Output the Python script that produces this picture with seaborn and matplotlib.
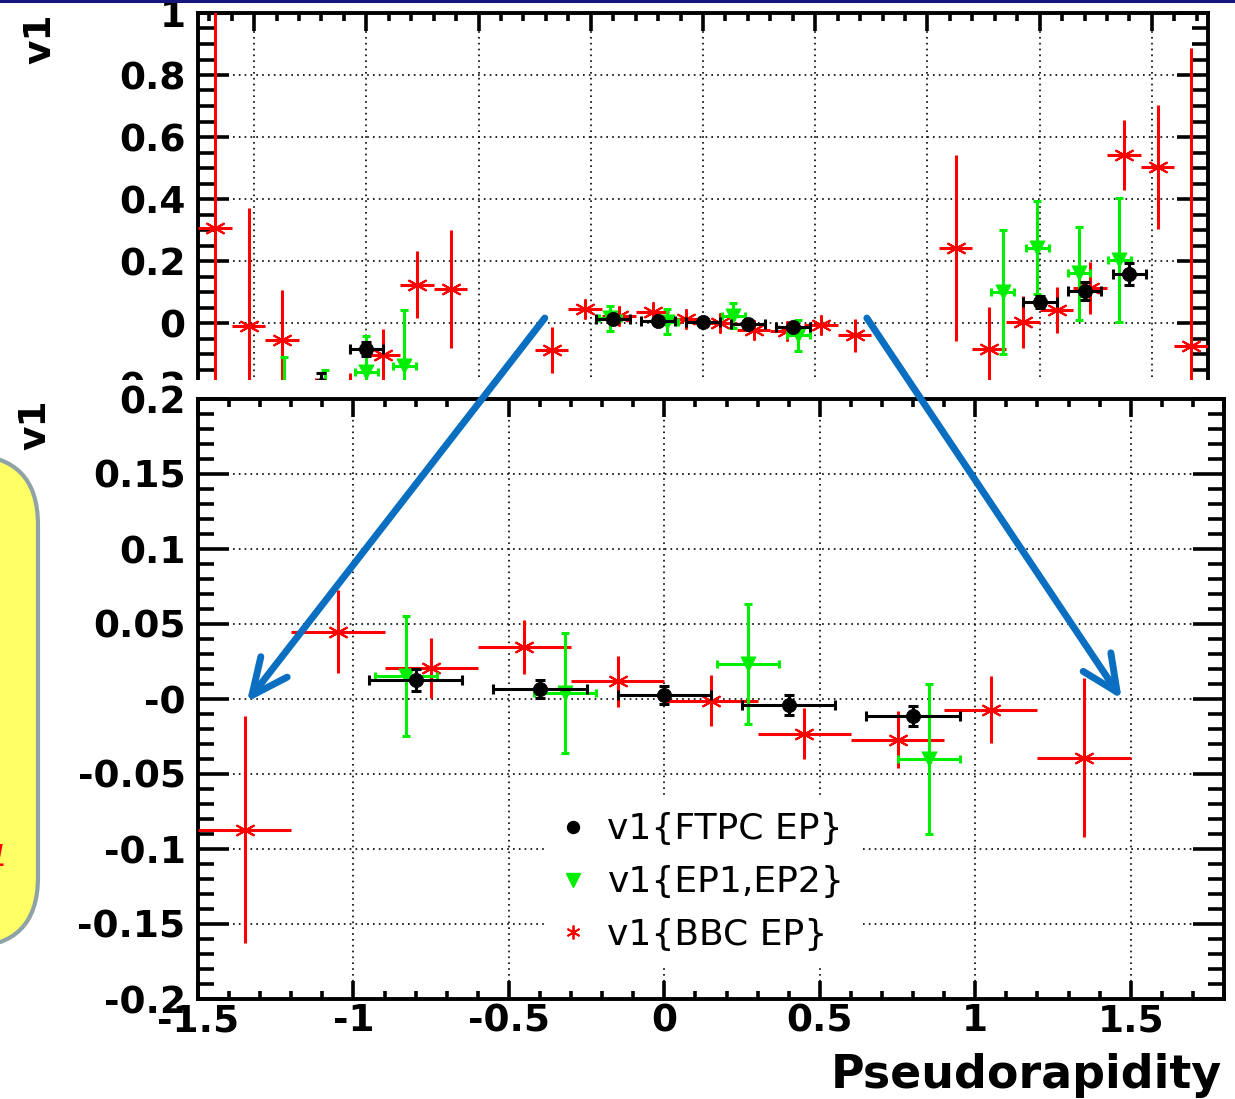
import matplotlib
matplotlib.use("Agg")
import matplotlib.pyplot as plt
import seaborn as sns
from matplotlib.lines import Line2D
from matplotlib.patches import Rectangle, FancyBboxPatch, ConnectionPatch
from matplotlib.ticker import MultipleLocator

# v1{BBC EP}  (bins of 0.3 in eta)
bbc_eta = [-4.35, -4.05, -3.75, -3.45, -3.15, -2.85, -2.55, -2.25, -1.95, -1.65,
           -1.35, -1.05, -0.75, -0.45, -0.15, 0.15, 0.45, 0.75, 1.05, 1.35,
           1.65, 1.95, 2.25, 2.55, 2.85, 3.15, 3.45, 3.75, 4.05, 4.35]
bbc_v1 = [0.306, -0.010, -0.055, -0.300, -0.280, -0.103, 0.123, 0.110, -0.400, -0.400,
          -0.087, 0.045, 0.021, 0.035, 0.012, -0.001, -0.023, -0.027, -0.007, -0.039,
          -0.400, -0.400, 0.242, -0.084, 0.003, 0.042, 0.113, 0.542, 0.503, -0.074]
bbc_err = [1.00, 0.38, 0.16, 0.123, 0.12, 0.083, 0.108, 0.19, 0.15, 0.15,
           0.0755, 0.0277, 0.020, 0.018, 0.017, 0.0167, 0.017, 0.019, 0.0225, 0.053,
           0.15, 0.15, 0.30, 0.136, 0.085, 0.073, 0.085, 0.113, 0.20, 0.96]
bbc_xerr = 0.15

# v1{EP1,EP2}
ep_eta = [-3.73, -3.37, -3.00, -2.66, -0.83, -0.32, 0.27, 0.85, 2.67, 2.98, 3.35, 3.71]
ep_v1 = [-0.300, -0.250, -0.158, -0.139, 0.0153, 0.004, 0.0233, -0.040, 0.100, 0.242, 0.161, 0.203]
ep_err = [0.19, 0.10, 0.116, 0.18, 0.040, 0.040, 0.040, 0.050, 0.20, 0.15, 0.15, 0.20]
ep_xerr = 0.1

# v1{FTPC EP}
ftpc_eta = [-3.8, -3.4, -3.0, -0.8, -0.4, 0.0, 0.4, 0.8, 3.0, 3.4, 3.8]
ftpc_v1 = [-0.250, -0.200, -0.084, 0.0127, 0.0067, 0.0027, -0.004, -0.0113, 0.068, 0.103, 0.158]
ftpc_err = [0.04, 0.04, 0.024, 0.0073, 0.006, 0.0063, 0.0067, 0.0067, 0.02, 0.03, 0.035]
ftpc_xerr = 0.15

legend_labels = ["v1{FTPC EP}", "v1{EP1,EP2}", "v1{BBC EP}"]

top_xticks = [-4, -3, -2, -1, 0, 1, 2, 3, 4]
top_yticks = [-0.2, 0, 0.2, 0.4, 0.6, 0.8, 1]
top_ylabels = ["-0.2", "0", "0.2", "0.4", "0.6", "0.8", "1"]
bot_xticks = [-1.5, -1, -0.5, 0, 0.5, 1, 1.5]
bot_xlabels = ["-1.5", "-1", "-0.5", "0", "0.5", "1", "1.5"]
bot_yticks = [-0.2, -0.15, -0.1, -0.05, 0, 0.05, 0.1, 0.15, 0.2]
bot_ylabels = ["-0.2", "-0.15", "-0.1", "-0.05", "-0", "0.05", "0.1", "0.15", "0.2"]

# arrows: start in top panel data, end in zoomed panel data
arrow_from = [(-1.41, 0.016), (1.46, 0.016)]
arrow_to = [(-1.343, -0.002), (1.471, 0.0)]

sns.set_style("ticks")
plt.rcParams["font.family"] = ["DejaVu Sans"]
plt.rcParams["axes.unicode_minus"] = False
for key in ["text.color", "axes.labelcolor", "xtick.color", "ytick.color", "axes.edgecolor"]:
    plt.rcParams[key] = "black"

W, H = 1235, 1099
fig = plt.figure(figsize=(W / 100, H / 100), dpi=100)


def box(l, t, r, b):
    return [l / W, 1 - b / H, (r - l) / W, (b - t) / H]


def root_style(ax, xticks, xlabels, yticks, ylabels, xminor, yminor):
    ax.set_xticks(xticks, xlabels, fontweight="bold", color="black")
    ax.set_yticks(yticks, ylabels, fontweight="bold", color="black")
    ax.xaxis.set_minor_locator(MultipleLocator(xminor))
    ax.yaxis.set_minor_locator(MultipleLocator(yminor))
    ax.tick_params(which="both", direction="in", top=True, right=True,
                   width=2.6, color="black", labelcolor="black", labelsize=27)
    ax.tick_params(axis="y", which="major", length=22, pad=9)
    ax.tick_params(axis="y", which="minor", length=11.5)
    ax.tick_params(axis="x", which="major", length=13, pad=3)
    ax.tick_params(axis="x", which="minor", length=6)
    ax.grid(True, which="major", color="black", lw=1.2, ls=(0, (1, 2.5)))
    ax.set_axisbelow(True)
    for s in ax.spines.values():
        s.set_linewidth(2.8)
        s.set_color("black")
    ax.set_facecolor("white")


def draw_data(ax):
    ax.errorbar(bbc_eta, bbc_v1, yerr=bbc_err, xerr=bbc_xerr, fmt="none",
                ecolor="#ff0000", elinewidth=2.2, capsize=0, zorder=3)
    sns.scatterplot(x=bbc_eta, y=bbc_v1, ax=ax, color="#ff0000", marker=(6, 2, 0),
                    s=190, linewidth=1.5, zorder=4)
    ax.errorbar(ep_eta, ep_v1, yerr=ep_err, xerr=ep_xerr, fmt="none",
                ecolor="#00ee00", elinewidth=2.2, capsize=3.2, capthick=2.2, zorder=5)
    sns.scatterplot(x=ep_eta, y=ep_v1, ax=ax, color="#00ee00", marker="v",
                    s=120, edgecolor="#00ee00", linewidth=0.5, zorder=6)
    ax.errorbar(ftpc_eta, ftpc_v1, yerr=ftpc_err, xerr=ftpc_xerr, fmt="none",
                ecolor="black", elinewidth=2.2, capsize=3.6, capthick=2.2, zorder=7)
    sns.scatterplot(x=ftpc_eta, y=ftpc_v1, ax=ax, color="black", marker="o",
                    s=105, edgecolor="black", linewidth=0.5, zorder=8)


# full-range panel (partly hidden behind the zoomed one)
ax_top = fig.add_axes(box(198, 13, 1208, 447))
ax_top.set_xlim(-4.5, 4.5)
ax_top.set_ylim(-0.4, 1.0)
root_style(ax_top, top_xticks, [str(t) for t in top_xticks], top_yticks, top_ylabels, 0.2, 0.05)
draw_data(ax_top)
ax_top.set_ylabel("v1", fontsize=27, fontweight="bold", rotation=90,
                  rotation_mode="default", ha="center", va="top")
ax_top.yaxis.set_label_coords(-0.156, 1.0)
ax_top.set_zorder(0)

# white canvas of the zoomed plot covering the lower part of the first one
fig.add_artist(Rectangle((0, 0), 1, (H - 380) / H, transform=fig.transFigure,
                         facecolor="white", edgecolor="none", zorder=0.5))

# zoomed panel
ax_bot = fig.add_axes(box(198, 399, 1224, 999))
ax_bot.set_zorder(1)
ax_bot.set_xlim(-1.5, 1.8)
ax_bot.set_ylim(-0.2, 0.2)
root_style(ax_bot, bot_xticks, bot_xlabels, bot_yticks, bot_ylabels, 0.1, 0.01)
draw_data(ax_bot)
ax_bot.set_ylabel("v1", fontsize=27, fontweight="bold", rotation=90,
                  rotation_mode="default", ha="center", va="top")
ax_bot.yaxis.set_label_coords(-0.158, 1.0)
ax_bot.set_xlabel("Pseudorapidity", fontsize=33, fontweight="bold", ha="right", va="baseline")
ax_bot.xaxis.set_label_coords(0.998, -0.148)

handles = [
    Line2D([], [], ls="none", marker="o", ms=8.6, color="black"),
    Line2D([], [], ls="none", marker="v", ms=10, color="#00ee00"),
    Line2D([], [], ls="none", marker=(6, 2, 0), ms=10, mew=1.3, color="#ff0000"),
]
leg = ax_bot.legend(handles, legend_labels, loc="upper left", bbox_to_anchor=(0.341, 0.335),
                    borderaxespad=0, fontsize=26, handlelength=0.6, handletextpad=0.65,
                    labelspacing=0.52, frameon=True, fancybox=False, framealpha=1,
                    facecolor="white", edgecolor="none", borderpad=0.4)

# blue zoom arrows
for a, b in zip(arrow_from, arrow_to):
    con = ConnectionPatch(xyA=a, coordsA=ax_top.transData, xyB=b, coordsB=ax_bot.transData,
                          arrowstyle="->,head_length=2.6,head_width=1.2", color="#0a6fc0",
                          lw=5, mutation_scale=10, zorder=10)
    fig.add_artist(con)

# slide decorations: yellow callout box at left edge, header rule
callout = FancyBboxPatch((-1.5, 1.52), 1.88, 4.92, boxstyle="round,pad=0,rounding_size=0.7",
                         transform=fig.dpi_scale_trans, facecolor="#ffff66",
                         edgecolor="#8fa3a6", lw=3, zorder=9)
fig.add_artist(callout)
fig.text(9 / W, 1 - 858 / H, "v1", color="red", fontsize=22, style="italic",
         ha="right", va="center", zorder=11)
fig.add_artist(Line2D([0, 1], [1 - 1.2 / H, 1 - 1.2 / H], transform=fig.transFigure,
                      color="#16167a", lw=2.2, zorder=12))

fig.savefig("out.png", dpi=100)
